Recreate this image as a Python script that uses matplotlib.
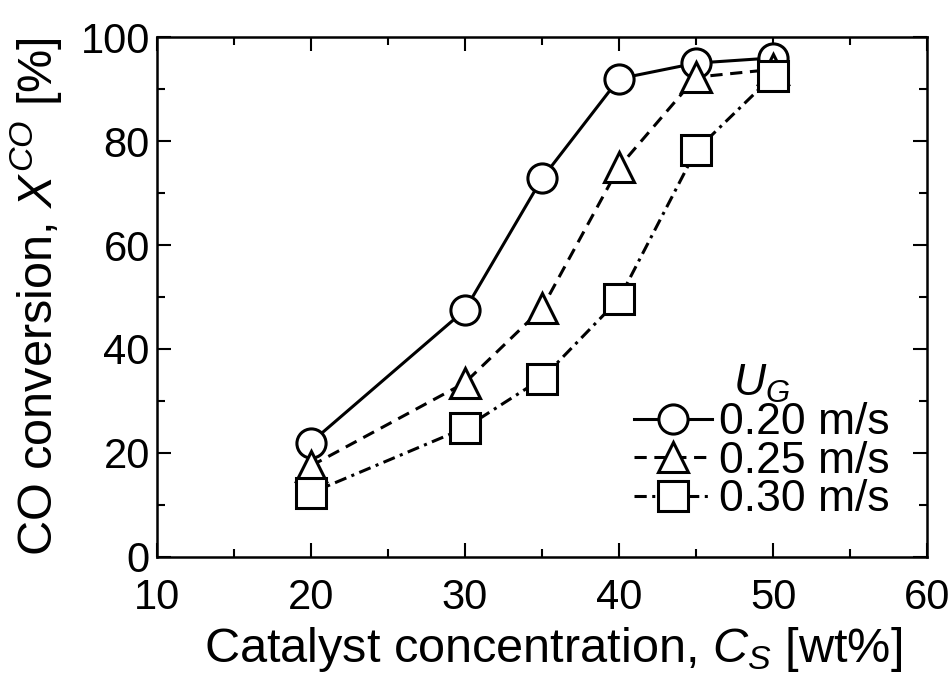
import matplotlib
matplotlib.use('Agg')
import matplotlib.pyplot as plt
from matplotlib.ticker import MultipleLocator

plt.rcParams['font.family'] = ['Liberation Sans', 'DejaVu Sans']
plt.rcParams['mathtext.fontset'] = 'custom'
plt.rcParams['mathtext.rm'] = 'Liberation Sans'
plt.rcParams['mathtext.it'] = 'Liberation Sans:italic'

# catalyst concentration [wt%]
cs = [20, 30, 35, 40, 45, 50]
# CO conversion [%] for each gas velocity
x_020 = [22, 47.5, 72.8, 92, 95, 96]
x_025 = [17.5, 33.5, 47.8, 75, 92.3, 93.8]
x_030 = [12.3, 24.8, 34.3, 49.6, 78.2, 92.6]
labels = ['0.20 m/s', '0.25 m/s', '0.30 m/s']

fig = plt.figure(figsize=(9.5, 6.75), dpi=100)
ax = fig.add_axes([0.165, 0.175, 0.811, 0.77])

style = dict(color='black', lw=2.2, ms=21, mfc='white', mec='black', mew=2.2)
ax.plot(cs, x_020, 'o-', label=labels[0], **style)
ax.plot(cs, x_025, '^', ls=(0, (4, 2.5)), label=labels[1], **style)
ax.plot(cs, x_030, 's', ls=(0, (4, 1.8, 1, 1.8)), label=labels[2], **style)

ax.set_xlim(10, 60)
ax.set_ylim(0, 100)
ax.xaxis.set_major_locator(MultipleLocator(10))
ax.xaxis.set_minor_locator(MultipleLocator(5))
ax.yaxis.set_major_locator(MultipleLocator(20))
ax.yaxis.set_minor_locator(MultipleLocator(10))
ax.tick_params(which='both', direction='in', top=True, right=True, width=1.5, labelsize=30)
ax.tick_params(which='major', length=10)
ax.tick_params(which='minor', length=6)
ax.tick_params(axis='x', pad=15)
ax.tick_params(axis='y', pad=5)
for sp in ax.spines.values():
    sp.set_linewidth(1.8)

ax.set_xlabel('Catalyst concentration, $C_S$ [wt%]', fontsize=35, labelpad=5)
ax.xaxis.label.set_x(0.515)
ax.set_ylabel('CO conversion, $X^{CO}$ [%]', fontsize=35, labelpad=12)

leg = ax.legend(loc='lower right', bbox_to_anchor=(0.968, 0.045), borderaxespad=0,
                frameon=False, fontsize=32, title='$U_G$', title_fontsize=32,
                handlelength=1.75, handletextpad=0.15, labelspacing=-0.06,
                borderpad=0.3, markerscale=1.0)

fig.savefig('out.png', dpi=100)
